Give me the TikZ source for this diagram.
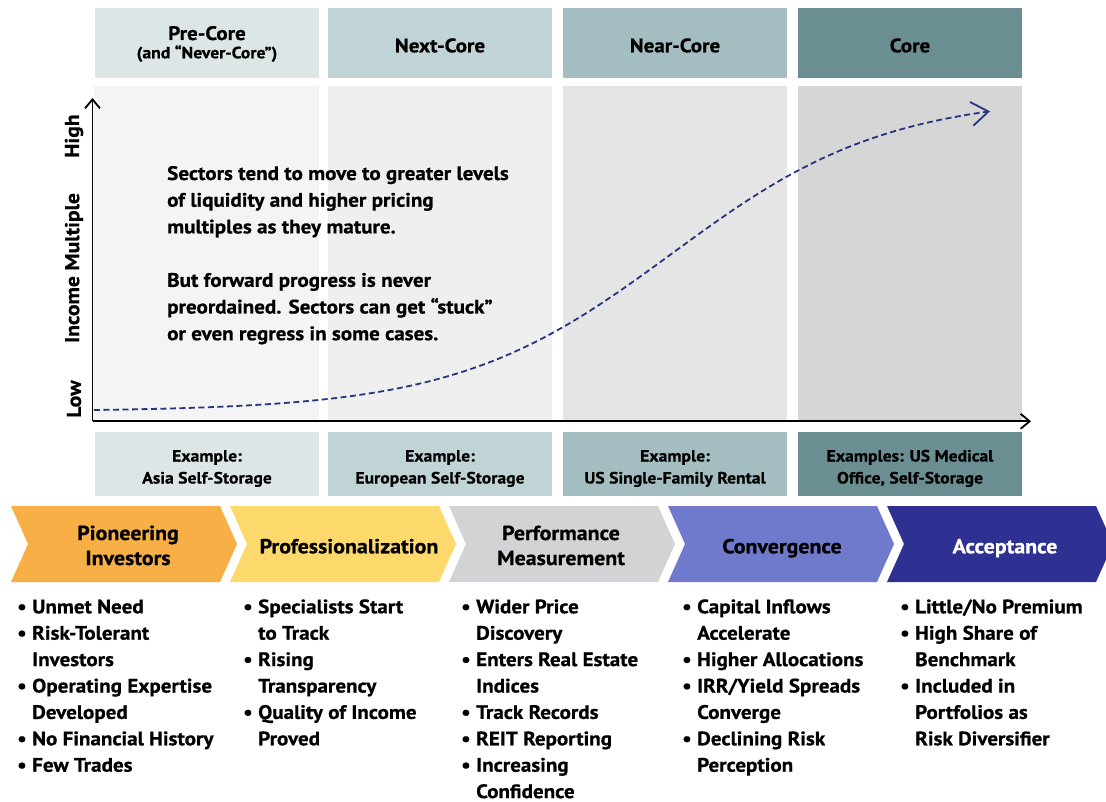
\documentclass[tikz,border=0pt]{standalone}
\usepackage{fontspec}
\setmainfont{PT Sans}[FakeStretch=1.08, FakeBold=0.7]
\usetikzlibrary{arrows.meta}

\definecolor{hdrA}{HTML}{DCE6E7}
\definecolor{hdrB}{HTML}{C0D3D6}
\definecolor{hdrC}{HTML}{A3BDC1}
\definecolor{hdrD}{HTML}{6B8E93}
\definecolor{panA}{HTML}{F4F4F4}
\definecolor{panB}{HTML}{EFEFEF}
\definecolor{panC}{HTML}{E5E5E5}
\definecolor{panD}{HTML}{D6D6D6}
\definecolor{chA}{HTML}{F8AF45}
\definecolor{chB}{HTML}{FDD96B}
\definecolor{chC}{HTML}{D1D3D4}
\definecolor{chD}{HTML}{6F7ACD}
\definecolor{chE}{HTML}{2E3192}
\definecolor{trendblue}{HTML}{25367F}

% multi-line block whose baseline is that of its first line
\newcommand\txtstack[2]{\begin{tabular}[t]{@{}#1@{}}#2\end{tabular}}
\newcommand\bitem{\makebox[15pt][l]{\textbullet}}
\newcommand\bcont{\hspace*{15pt}}

\begin{document}
\begin{tikzpicture}[x=1pt,y=-1pt,
  hdr/.style={anchor=north west, minimum width=224, minimum height=70, inner sep=0pt},
  panel/.style={anchor=north west, minimum width=224, minimum height=335, inner sep=0pt},
  exbox/.style={anchor=north west, minimum width=224, minimum height=64, inner sep=0pt},
  big/.style={anchor=base, inner sep=0pt, font=\bfseries\fontsize{19.5}{24}\selectfont},
  small/.style={anchor=base, inner sep=0pt, font=\bfseries\fontsize{16.3}{22}\selectfont},
  chevtxt/.style={anchor=base, inner sep=0pt, font=\bfseries\fontsize{20.3}{25}\selectfont},
  bullets/.style={anchor=base west, inner sep=0pt, font=\bfseries\fontsize{19.5}{26.4}\selectfont},
  body/.style={anchor=base west, inner sep=0pt, font=\bfseries\fontsize{19.5}{26.7}\selectfont},
  axlabel/.style={rotate=90, inner sep=0pt, font=\bfseries\fontsize{20}{22}\selectfont},
  axis/.style={line width=1.8pt, -{Straight Barb[length=9pt,width=15pt]}},
  trend/.style={draw=trendblue, line width=1.8pt, dash pattern=on 6pt off 3.5pt,
    -{Straight Barb[length=17pt,width=24pt]}},
  chev/.style={line join=miter}
]
\useasboundingbox (0,0) rectangle (1106,802);

% ---- stage headers ----
\node[hdr, fill=hdrA] (h1) at (95,8) {};
\node[hdr, fill=hdrB] (h2) at (328,8) {};
\node[hdr, fill=hdrC] (h3) at (563,8) {};
\node[hdr, fill=hdrD] (h4) at (798,8) {};
\node[big] (h1t) at (207,40) {Pre-Core};
\node[small] (h1s) at (207,58.3) {(and “Never-Core”)};
\node[big] (h2t) at (440,52.3) {Next-Core};
\node[big] (h3t) at (675,52.3) {Near-Core};
\node[big] (h4t) at (910,52.3) {Core};

% ---- chart panels ----
\node[panel, fill=panA, minimum width=225] (p1) at (94,86) {};
\node[panel, fill=panB] (p2) at (328,86) {};
\node[panel, fill=panC] (p3) at (563,86) {};
\node[panel, fill=panD] (p4) at (798,86) {};

% ---- axes ----
\coordinate (orig) at (92.5,421.3);
\coordinate (ytop) at (92.5,98);
\coordinate (xend) at (1031,421.3);
\draw[axis] (orig) -- (ytop);
\draw[axis] (orig) -- (xend);
\node[axlabel] (lo) at (74,399) {Low};
\node[axlabel] (mid) at (74,268) {Income Multiple};
\node[axlabel] (hi) at (74,136) {High};

% ---- maturity curve ----
\draw[trend] plot[domain=94:990, samples=90, smooth]
  (\x, {411.5-316/(1+exp((672-\x)/108))});

% ---- commentary ----
\node[body] (note) at (167,180) {\txtstack{l}{%
  Sectors tend to move to greater levels\\
  of liquidity and higher pricing\\
  multiples as they mature.\\
  \\
  But forward progress is never\\
  preordained. Sectors can get “stuck”\\
  or even regress in some cases.}};

% ---- examples ----
\node[exbox, fill=hdrA] (e1) at (95,432) {};
\node[exbox, fill=hdrB] (e2) at (328,432) {};
\node[exbox, fill=hdrC] (e3) at (563,432) {};
\node[exbox, fill=hdrD] (e4) at (798,432) {};
\node[small] (e1t) at (207,461.5) {\txtstack{c}{Example:\\Asia Self-Storage}};
\node[small] (e2t) at (440,461.5) {\txtstack{c}{Example:\\European Self-Storage}};
\node[small] (e3t) at (675,461.5) {\txtstack{c}{Example:\\US Single-Family Rental}};
\node[small] (e4t) at (910,461.5) {\txtstack{c}{Examples: US Medical\\Office, Self-Storage}};

% ---- process chevrons ----
\foreach \x/\col in {11/chA, 230/chB, 449/chC, 668/chD, 887/chE}{
  \fill[chev, \col] (\x,506) -- (\x+209,506) -- (\x+226,544) -- (\x+209,582)
    -- (\x,582) -- (\x+17,544) -- cycle;
}
\node[chevtxt] (c1) at (128,540) {\txtstack{c}{Pioneering\\Investors}};
\node[chevtxt] (c2) at (349,553.3) {Professionalization};
\node[chevtxt] (c3) at (561,540) {\txtstack{c}{Performance\\Measurement}};
\node[chevtxt] (c4) at (782,553.3) {Convergence};
\node[chevtxt, text=white] (c5) at (1005,553.3) {Acceptance};

% ---- characteristics ----
\node[bullets] (b1) at (17,613.3) {\txtstack{l}{%
  \bitem Unmet Need\\
  \bitem Risk-Tolerant\\
  \bcont Investors\\
  \bitem Operating Expertise\\
  \bcont Developed\\
  \bitem No Financial History\\
  \bitem Few Trades}};
\node[bullets] (b2) at (243,613.3) {\txtstack{l}{%
  \bitem Specialists Start\\
  \bcont to Track\\
  \bitem Rising\\
  \bcont Transparency\\
  \bitem Quality of Income\\
  \bcont Proved}};
\node[bullets] (b3) at (461,613.3) {\txtstack{l}{%
  \bitem Wider Price\\
  \bcont Discovery\\
  \bitem Enters Real Estate\\
  \bcont Indices\\
  \bitem Track Records\\
  \bitem REIT Reporting\\
  \bitem Increasing\\
  \bcont Confidence}};
\node[bullets] (b4) at (682,613.3) {\txtstack{l}{%
  \bitem Capital Inflows\\
  \bcont Accelerate\\
  \bitem Higher Allocations\\
  \bitem IRR/Yield Spreads\\
  \bcont Converge\\
  \bitem Declining Risk\\
  \bcont Perception}};
\node[bullets] (b5) at (900,613.3) {\txtstack{l}{%
  \bitem Little/No Premium\\
  \bitem High Share of\\
  \bcont Benchmark\\
  \bitem Included in\\
  \bcont Portfolios as\\
  \bcont Risk Diversifier}};
\end{tikzpicture}
\end{document}
